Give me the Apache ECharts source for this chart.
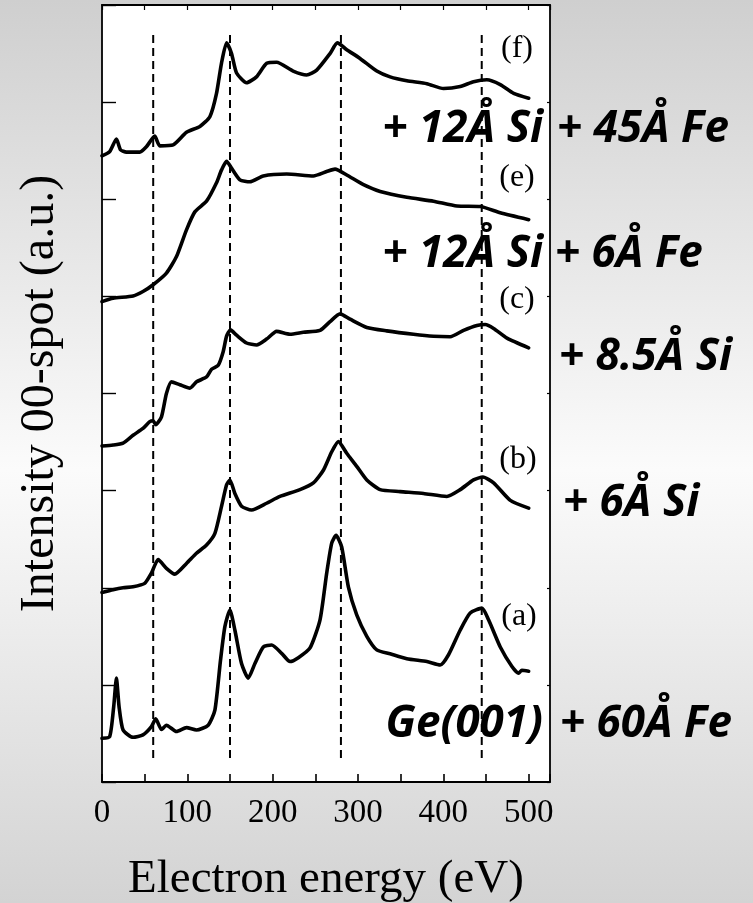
<!DOCTYPE html>
<html>
<head>
<meta charset="utf-8">
<script src="https://cdn.jsdelivr.net/npm/echarts@6/dist/echarts.min.js"></script>
<style>
html,body{margin:0;padding:0;}
#chart{width:753px;height:903px;}
</style>
</head>
<body>
<div id="chart"></div>
<script>
// ---- Data (energy in eV, intensity in arbitrary units) ----
var xTicks = [0, 100, 200, 300, 400, 500];
var dashedEnergies = [60, 150, 280, 445];

var curveA = [[0,0.45],[9,0.467],[13.7,0.775],[16.9,1.07],[20,0.775],[24.7,0.535],[36.4,0.46],[48,0.485],[57.9,0.57],[63,0.65],[69.7,0.54],[75.5,0.585],[87.3,0.52],[99,0.56],[110.7,0.535],[124.4,0.585],[132.3,0.74],[138.9,1.256],[144,1.60],[149.9,1.77],[155.7,1.565],[163.5,1.22],[171.4,1.07],[179.2,1.22],[189,1.39],[198.8,1.41],[210.5,1.325],[220.3,1.24],[230.1,1.28],[243.8,1.38],[255.5,1.67],[263.3,2.15],[269.2,2.46],[274.3,2.54],[280.9,2.42],[288.7,2.01],[298.5,1.72],[310.3,1.50],[322,1.36],[337.6,1.32],[357.2,1.27],[380.7,1.24],[396.3,1.205],[406.1,1.31],[419.8,1.565],[431.5,1.74],[445.2,1.79],[453,1.67],[466.7,1.39],[480.4,1.19],[488.2,1.12],[492,1.15],[500,1.14]];

var curveB = [[0,1.95],[13,1.98],[24.7,2.00],[36.4,2.01],[50,2.045],[57.9,2.15],[65.8,2.29],[75.5,2.20],[85.3,2.14],[99,2.25],[110.7,2.355],[122.5,2.44],[132.3,2.56],[140,2.835],[146,3.06],[149.9,3.11],[155.7,2.97],[163.5,2.84],[175.3,2.80],[192.9,2.87],[208.5,2.94],[232,3.01],[247.7,3.08],[259.4,3.21],[269.2,3.40],[277,3.505],[286.8,3.385],[298.5,3.25],[310.3,3.11],[325.9,3.01],[349.4,2.99],[376.8,2.97],[404.1,2.94],[419.8,3.01],[435.4,3.11],[446.4,3.14],[458.9,3.08],[478.5,2.90],[500,2.82]];

var curveC = [[0,3.46],[13,3.47],[24.7,3.49],[36.4,3.57],[48,3.64],[56,3.71],[59.9,3.72],[63,3.68],[69.7,3.76],[75.5,4.00],[81.4,4.12],[91.2,4.09],[103,4.055],[110.8,4.12],[122.5,4.17],[128.4,4.25],[136.2,4.29],[142,4.43],[146,4.59],[150.6,4.655],[157.7,4.60],[169.4,4.52],[181.2,4.50],[192.9,4.56],[204.6,4.64],[220.3,4.61],[235.9,4.63],[255.5,4.65],[267.2,4.74],[279,4.82],[290.7,4.765],[310.3,4.68],[333.7,4.645],[365,4.61],[388.5,4.59],[408,4.585],[423.7,4.65],[439.4,4.70],[449.1,4.71],[458.9,4.67],[474.6,4.57],[500,4.47]];

var curveE = [[0,4.946],[13,4.98],[36.4,5.005],[48,5.05],[59.9,5.12],[75.5,5.24],[87.3,5.41],[99,5.685],[108.8,5.87],[122.5,5.98],[134.2,6.17],[140,6.30],[146,6.39],[151.8,6.32],[161.6,6.20],[173.3,6.18],[189,6.24],[216.4,6.26],[247.7,6.24],[263.3,6.285],[273.1,6.31],[286.8,6.25],[306.4,6.15],[326,6.08],[357.2,6.02],[388.5,5.98],[415.9,5.93],[443.3,5.925],[466.7,5.86],[500,5.79]];

var curveF = [[0,6.447],[9,6.49],[16.9,6.62],[21.6,6.51],[28.6,6.485],[44.2,6.485],[52,6.54],[61.8,6.65],[67.7,6.55],[83.4,6.56],[99,6.69],[114.7,6.75],[126.4,6.85],[134.2,7.09],[140,7.40],[146,7.61],[151.8,7.50],[157.7,7.30],[169.4,7.20],[181,7.26],[193,7.40],[204.6,7.41],[224,7.32],[239.8,7.28],[251.6,7.33],[267.2,7.50],[275.8,7.61],[286.8,7.54],[302.4,7.45],[322,7.32],[337.6,7.26],[357.2,7.22],[380.7,7.19],[400.2,7.14],[419.8,7.16],[435.4,7.21],[451,7.23],[466.7,7.18],[482.4,7.09],[500,7.04]];

var curves = [curveA, curveB, curveC, curveE, curveF];
var dashedRange = [0.247, 7.71];

// ---- Chart ----
var chart = echarts.init(document.getElementById('chart'), null, {renderer: 'canvas'});
var serif = '"Liberation Serif", "Times New Roman", serif';
var biFont = 'italic bold 44px "Open Sans"';
var paren = '32px "Liberation Serif"';

var series = [];
dashedEnergies.forEach(function (e) {
  series.push({
    type: 'line', xAxisIndex: 0, yAxisIndex: 0,
    data: [[e, dashedRange[0]], [e, dashedRange[1]]],
    symbol: 'none', silent: true,
    lineStyle: {color: '#000', width: 2, type: [8, 5]},
    z: 2
  });
});
curves.forEach(function (c) {
  series.push({
    type: 'line', xAxisIndex: 0, yAxisIndex: 0,
    data: c, symbol: 'none', smooth: 0.2,
    lineStyle: {color: '#000', width: 3.6, cap: 'round', join: 'round'},
    z: 3
  });
});

function txt(t, x, y, font, align) {
  return {type: 'text', x: x, y: y, z: 100,
    style: {text: t, font: font, fill: '#000', align: align || 'left', verticalAlign: 'middle'}};
}

var option = {
  animation: false,
  backgroundColor: {
    type: 'linear', x: 0, y: 0, x2: 0, y2: 1,
    colorStops: [
      {offset: 0, color: '#cfcfcf'},
      {offset: 0.52, color: '#fbfbfb'},
      {offset: 1, color: '#d3d3d3'}
    ]
  },
  grid: {left: 102, top: 5, right: 203, bottom: 121, show: true, backgroundColor: '#ffffff', borderWidth: 0,
    containLabel: false, outerBoundsMode: 'none'},
  xAxis: [{
    type: 'value', position: 'bottom', min: 0, max: 525, interval: 50,
    axisLine: {show: true, onZero: false, lineStyle: {color: '#000', width: 1.8}},
    axisTick: {show: true, inside: true, length: 8, lineStyle: {color: '#000', width: 1.6}},
    splitLine: {show: false},
    axisLabel: {
      margin: 15, color: '#000', fontFamily: serif, fontSize: 33,
      formatter: function (v) { return xTicks.indexOf(v) >= 0 ? String(v) : ''; }
    },
    name: 'Electron energy (eV)', nameLocation: 'middle', nameGap: 74,
    nameTextStyle: {color: '#000', fontFamily: serif, fontSize: 47}
  }, {
    type: 'value', position: 'top', min: 0, max: 525, interval: 50,
    axisLine: {show: true, onZero: false, lineStyle: {color: '#000', width: 1.8}},
    axisTick: {show: true, inside: true, length: 5, lineStyle: {color: '#000', width: 1.2}},
    splitLine: {show: false}, axisLabel: {show: false}
  }],
  yAxis: [{
    type: 'value', position: 'left', min: 0, max: 8, interval: 1,
    axisLine: {show: true, onZero: false, lineStyle: {color: '#000', width: 1.8}},
    axisTick: {show: true, inside: true, length: 14, lineStyle: {color: '#000', width: 1.4}},
    splitLine: {show: false}, axisLabel: {show: false},
    name: 'Intensity 00-spot (a.u.)', nameLocation: 'middle', nameGap: 38, nameRotate: 90,
    nameTextStyle: {color: '#000', fontFamily: serif, fontSize: 48}
  }, {
    type: 'value', position: 'right', min: 0, max: 8, interval: 1,
    axisLine: {show: true, onZero: false, lineStyle: {color: '#000', width: 1.8}},
    axisTick: {show: true, inside: true, length: 3, lineStyle: {color: '#000', width: 1.2}},
    splitLine: {show: false}, axisLabel: {show: false}
  }],
  graphic: [
    txt('(f)', 517, 49, paren, 'center'),
    txt('(e)', 517, 178, paren, 'center'),
    txt('(c)', 517, 300, paren, 'center'),
    txt('(b)', 518, 460, paren, 'center'),
    txt('(a)', 519, 617, paren, 'center'),
    txt('+ 12Å Si', 543, 129, biFont, 'right'),
    txt('+ 45Å Fe', 557, 129, biFont, 'left'),
    txt('+ 12Å Si', 543, 254, biFont, 'right'),
    txt('+ 6Å Fe', 555, 254, biFont, 'left'),
    txt('+ 8.5Å Si', 559, 357, biFont, 'left'),
    txt('+ 6Å Si', 563, 503, biFont, 'left'),
    txt('Ge(001)', 543, 724, biFont, 'right'),
    txt('+ 60Å Fe', 560, 724, biFont, 'left')
  ],
  series: series
};
chart.setOption(option);
</script>
</body>
</html>
